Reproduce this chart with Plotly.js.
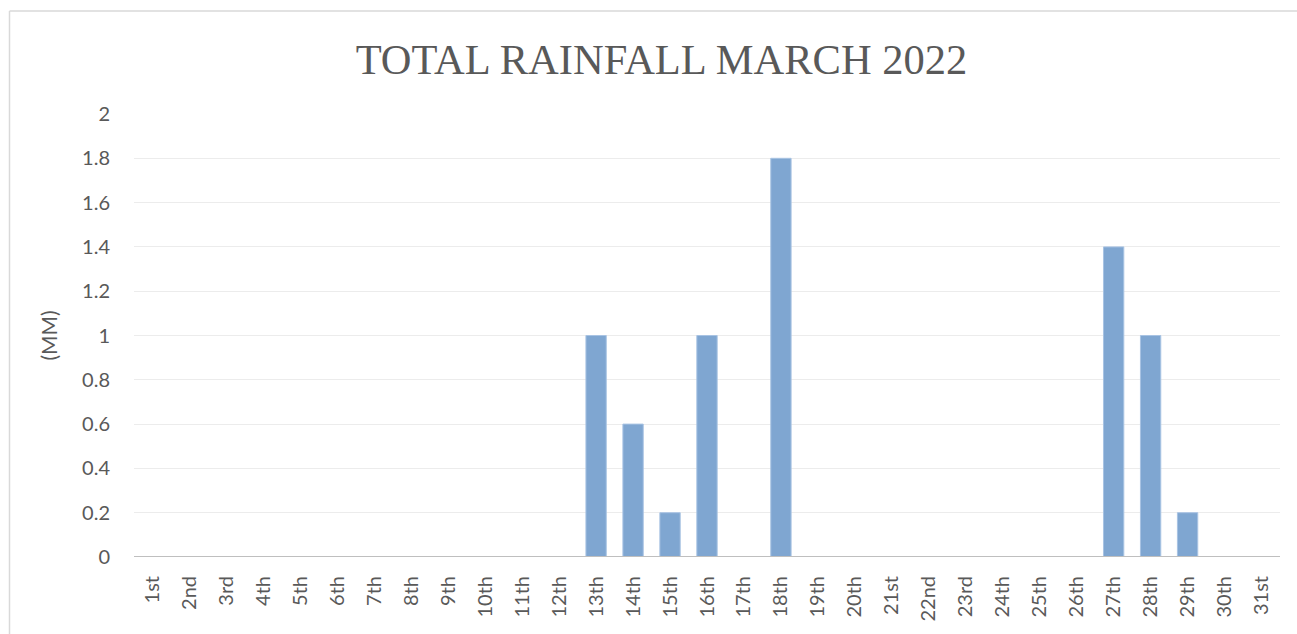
<!DOCTYPE html>
<html>
<head>
<meta charset="utf-8">
<script src="https://cdn.plot.ly/plotly-3.0.1.min.js"></script>
<style>
html,body{margin:0;padding:0;background:#fff;}
#chart{width:1297px;height:634px;}
</style>
</head>
<body>
<div id="chart"></div>
<script>
const days = ["1st","2nd","3rd","4th","5th","6th","7th","8th","9th","10th","11th","12th","13th","14th","15th","16th","17th","18th","19th","20th","21st","22nd","23rd","24th","25th","26th","27th","28th","29th","30th","31st"];
const rainfall = [0,0,0,0,0,0,0,0,0,0,0,0,1,0.6,0.2,1,0,1.8,0,0,0,0,0,0,0,0,1.4,1,0.2,0,0];
const yTicks = [0,0.2,0.4,0.6,0.8,1,1.2,1.4,1.6,1.8,2];
const yTickText = ["0","0.2","0.4","0.6","0.8","1","1.2","1.4","1.6","1.8","2"];

const trace = {
  type: 'bar',
  x: days,
  y: rainfall,
  marker: {color: '#7fa6d1', line: {color: '#a8c3e3', width: 1}},
  hoverinfo: 'x+y'
};

const W = 1297, H = 634;
const L = 134, R = 17, T = 114, B = 77;
const pw = W - L - R, ph = H - T - B;
const px = v => (v - L) / pw;
const py = v => (H - B - v) / ph;
const tickFont = {family: 'Lato, Carlito, sans-serif', size: 20, color: '#595959'};

const layout = {
  width: W, height: H,
  margin: {l: L, r: R, t: T, b: B, pad: 0},
  paper_bgcolor: '#ffffff',
  plot_bgcolor: '#ffffff',
  bargap: 0.45,
  showlegend: false,
  title: {
    text: 'TOTAL RAINFALL MARCH 2022',
    font: {family: 'Liberation Serif, serif', size: 42.5, color: '#595959'},
    x: 0.51, xanchor: 'center', y: 0.883, yanchor: 'bottom'
  },
  xaxis: {
    type: 'category',
    tickangle: -90,
    tickfont: tickFont,
    showgrid: false,
    showline: false,
    zeroline: false,
    ticks: 'outside',
    ticklen: 10,
    tickcolor: 'rgba(0,0,0,0)',
    automargin: false
  },
  yaxis: {
    range: [0, 2],
    tickvals: yTicks,
    ticktext: yTickText,
    tickfont: tickFont,
    showgrid: true,
    gridcolor: '#ececec',
    gridwidth: 1,
    zeroline: false,
    showline: false,
    ticks: 'outside',
    ticklen: 19,
    tickcolor: 'rgba(0,0,0,0)',
    title: {
      text: '(MM)',
      font: {family: 'Lato, Carlito, sans-serif', size: 21, color: '#595959'},
      standoff: 18
    },
    automargin: false,
    fixedrange: true
  },
  shapes: [
    {type: 'line', xref: 'paper', yref: 'y', x0: 0, x1: 1, y0: 0, y1: 0,
     line: {color: '#bfbfbf', width: 2}},
    {type: 'line', xref: 'paper', yref: 'paper', x0: px(9.5), x1: px(9.5), y0: py(11), y1: py(700),
     line: {color: '#d9d9d9', width: 1.5}},
    {type: 'line', xref: 'paper', yref: 'paper', x0: px(9.5), x1: px(1310), y0: py(11), y1: py(11),
     line: {color: '#d9d9d9', width: 1.5}}
  ]
};

Plotly.newPlot('chart', [trace], layout, {displayModeBar: false, staticPlot: true});
</script>
</body>
</html>
